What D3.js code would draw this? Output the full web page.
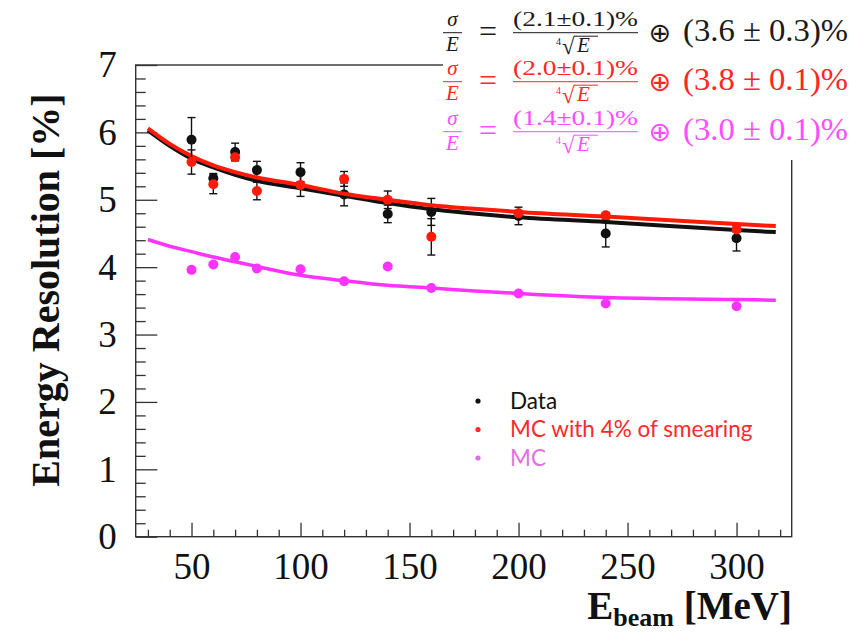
<!DOCTYPE html>
<html>
<head>
<meta charset="utf-8">
<script src="https://cdn.jsdelivr.net/npm/d3@7"></script>
<style>
    body { margin: 0; background: #fff; }
    svg { display: block; }
</style>
</head>
<body>
<div id="chart"></div>
<script>
// beam energies [MeV]
const energies = [50, 60, 70, 80, 100, 120, 140, 160, 200, 240, 300];

// Data (black) with errors
const dataRes = [5.89, 5.32, 5.71, 5.44, 5.41, 5.08, 4.79, 4.82, 4.76, 4.50, 4.43];
const dataErr = [0.33, 0.07, 0.13, 0.13, 0.14, 0.17, 0.13, 0.20, 0.13, 0.20, 0.19];

// MC with 4% smearing (red) with errors
const smearRes = [5.56, 5.23, 5.63, 5.13, 5.22, 5.31, 5.00, 4.45, 4.80, 4.77, 4.56];
const smearErr = [0.18, 0.14, 0.05, 0.13, 0.17, 0.11, 0.13, 0.27, 0.04, 0.04, 0.04];

// MC (magenta)
const mcRes = [3.96, 4.04, 4.15, 3.98, 3.97, 3.79, 4.01, 3.69, 3.61, 3.46, 3.42];

// fitted curves
const fitE = [30, 40, 50, 60, 70, 80, 100, 120, 140, 160, 178, 200, 240, 300, 318];
const fitData = [6.03, 5.80, 5.61, 5.48, 5.37, 5.28, 5.17, 5.06, 4.95, 4.86, 4.80, 4.74, 4.67, 4.55, 4.52];
const fitSmear = [6.06, 5.83, 5.65, 5.51, 5.41, 5.33, 5.22, 5.09, 5.00, 4.92, 4.87, 4.82, 4.75, 4.64, 4.61];
const fitMC = [4.41, 4.31, 4.23, 4.15, 4.08, 4.01, 3.88, 3.80, 3.73, 3.69, 3.65, 3.61, 3.55, 3.52, 3.51];

const xTicks = [50, 100, 150, 200, 250, 300];
const yTicks = [0, 1, 2, 3, 4, 5, 6, 7];

const legendLabels = ['Data', 'MC with 4% of smearing', 'MC'];
const formulas = [
    { num: '(2.1\u00b10.1)%', tail: '(3.6 \u00b1 0.3)%' },
    { num: '(2.0\u00b10.1)%', tail: '(3.8 \u00b1 0.1)%' },
    { num: '(1.4\u00b10.1)%', tail: '(3.0 \u00b1 0.1)%' }
];

const black = '#111';
const red = '#ff1a0a';
const magenta = '#ff33ff';

const width = 858;
const height = 632;
const plot = { left: 135.7, right: 791.7, top: 65, bottom: 536.7 };

const svg = d3.select('#chart')
    .append('svg')
    .attr('width', width)
    .attr('height', height);

svg.append('rect').attr('width', width).attr('height', height).attr('fill', '#fff');

const x = d3.scaleLinear().domain([24.4, 325.3]).range([plot.left, plot.right]);
const y = d3.scaleLinear().domain([0, 7]).range([plot.bottom, plot.top]);

// minor ticks
const xMinor = d3.range(30, 330, 10).filter(d => d % 50 !== 0);
const yMinor = d3.range(0, 7.01, 0.2).map(d => +d.toFixed(1)).filter(d => d % 1 !== 0);

svg.append('g')
    .attr('transform', `translate(0, ${plot.bottom})`)
    .call(d3.axisBottom(x).tickValues(xMinor).tickSize(-7).tickFormat(''))
    .call(g => g.select('.domain').remove());

svg.append('g')
    .attr('class', 'x-axis')
    .attr('transform', `translate(0, ${plot.bottom})`)
    .call(d3.axisBottom(x).tickValues(xTicks).tickSize(-14).tickPadding(16))
    .call(g => g.select('.domain').remove());

svg.append('g')
    .attr('transform', `translate(${plot.left}, 0)`)
    .call(d3.axisLeft(y).tickValues(yMinor).tickSize(-10).tickFormat(''))
    .call(g => g.select('.domain').remove());

svg.append('g')
    .attr('class', 'y-axis')
    .attr('transform', `translate(${plot.left}, 0)`)
    .call(d3.axisLeft(y).tickValues(yTicks).tickSize(-21.6).tickPadding(19).tickFormat(d3.format('d')))
    .call(g => g.select('.domain').remove());

svg.selectAll('.tick line').attr('stroke', '#333').attr('stroke-width', 1.3);
svg.selectAll('.x-axis text, .y-axis text')
    .attr('font-family', '"Liberation Serif", "Times New Roman", serif')
    .attr('font-size', 37)
    .attr('fill', '#111');

// frame
svg.append('rect')
    .attr('x', plot.left).attr('y', plot.top)
    .attr('width', plot.right - plot.left).attr('height', plot.bottom - plot.top)
    .attr('fill', 'none').attr('stroke', '#333').attr('stroke-width', 1.4);

// axis titles
svg.append('text')
    .attr('transform', 'translate(59, 290) rotate(-90)')
    .attr('text-anchor', 'middle')
    .attr('font-family', '"Liberation Serif", "Times New Roman", serif')
    .attr('font-weight', 'bold')
    .attr('font-size', 40)
    .attr('fill', '#111')
    .text('Energy Resolution [%]');

const xTitle = svg.append('text')
    .attr('x', 792).attr('y', 619)
    .attr('text-anchor', 'end')
    .attr('font-family', '"Liberation Serif", "Times New Roman", serif')
    .attr('font-weight', 'bold')
    .attr('font-size', 39)
    .attr('fill', '#111');
xTitle.append('tspan').text('E');
xTitle.append('tspan').attr('font-size', 26).attr('dy', 7).text('beam');
xTitle.append('tspan').attr('dy', -7).text(' [MeV]');

// curves
const line = d3.line()
    .x((d, i) => x(fitE[i]))
    .y(d => y(d))
    .curve(d3.curveMonotoneX);

const drawPoints = (values, color, r) => {
    svg.append('g')
        .selectAll('circle')
        .data(values)
        .join('circle')
        .attr('cx', (d, i) => x(energies[i]))
        .attr('cy', d => y(d))
        .attr('r', r)
        .attr('fill', color);
};

const drawErrors = (values, errs) => {
    const g = svg.append('g').attr('stroke', '#111').attr('stroke-width', 1.4);
    values.forEach((v, i) => {
        const cx = x(energies[i]);
        const lo = y(v - errs[i]);
        const hi = y(v + errs[i]);
        g.append('line').attr('x1', cx).attr('x2', cx).attr('y1', lo).attr('y2', hi);
        g.append('line').attr('x1', cx - 4).attr('x2', cx + 4).attr('y1', lo).attr('y2', lo);
        g.append('line').attr('x1', cx - 4).attr('x2', cx + 4).attr('y1', hi).attr('y2', hi);
    });
};

drawErrors(dataRes, dataErr);
drawPoints(dataRes, black, 5);

svg.append('path').datum(fitData).attr('d', line)
    .attr('fill', 'none').attr('stroke', black).attr('stroke-width', 4);
svg.append('path').datum(fitSmear).attr('d', line)
    .attr('fill', 'none').attr('stroke', red).attr('stroke-width', 4);
svg.append('path').datum(fitMC).attr('d', line)
    .attr('fill', 'none').attr('stroke', magenta).attr('stroke-width', 3.5);

drawErrors(smearRes, smearErr);
drawPoints(smearRes, red, 5);
drawPoints(mcRes, magenta, 5);

// legend
const legendColors = [black, '#ff2a2a', '#e070e0'];
const legend = svg.append('g').attr('transform', 'translate(478, 401)');
legendLabels.forEach((label, i) => {
    legend.append('circle').attr('cx', 0).attr('cy', i * 28.5).attr('r', 2.6).attr('fill', legendColors[i]);
    legend.append('text')
        .attr('x', 32).attr('y', i * 28.5 + 7.5)
        .attr('font-family', 'Lato, "Open Sans", sans-serif')
        .attr('font-size', 22.5)
        .attr('fill', legendColors[i])
        .text(label);
});

// formula box (white, hides frame corner)
svg.append('rect').attr('x', 443).attr('y', 0).attr('width', 415).attr('height', 160).attr('fill', '#fff');

const formulaColors = ['#1a1a1a', '#ff2626', '#ff4dff'];
const rowY = [32.7, 81.7, 131.7];
const serif = '"Liberation Serif", "Times New Roman", serif';

formulas.forEach((f, i) => {
    const y0 = rowY[i];
    const c = formulaColors[i];
    const g = svg.append('g').attr('fill', c).attr('stroke', 'none').attr('font-family', serif);

    g.append('text').attr('x', 452.5).attr('y', y0 - 6.5).attr('text-anchor', 'middle')
        .attr('font-style', 'italic').attr('font-size', 21).text('\u03c3');
    g.append('line').attr('x1', 443).attr('x2', 462).attr('y1', y0).attr('y2', y0)
        .attr('stroke', c).attr('stroke-width', 1);
    g.append('text').attr('x', 452.5).attr('y', y0 + 18).attr('text-anchor', 'middle')
        .attr('font-style', 'italic').attr('font-size', 21).text('E');

    g.append('text').attr('x', 488).attr('y', y0 + 9).attr('text-anchor', 'middle')
        .attr('font-size', 32).text('=');

    g.append('text').attr('x', 513).attr('y', y0 - 6.5)
        .attr('font-size', 20).attr('textLength', 125).attr('lengthAdjust', 'spacingAndGlyphs')
        .text(f.num);
    g.append('line').attr('x1', 513).attr('x2', 638).attr('y1', y0).attr('y2', y0)
        .attr('stroke', c).attr('stroke-width', 1);

    // fourth root of E
    g.append('text').attr('x', 556).attr('y', y0 + 12).attr('font-size', 10).text('4');
    g.append('text').attr('x', 562).attr('y', y0 + 21).attr('font-size', 23).text('\u221a');
    g.append('line').attr('x1', 574).attr('x2', 598).attr('y1', y0 + 3.5).attr('y2', y0 + 3.5)
        .attr('stroke', c).attr('stroke-width', 1);
    g.append('text').attr('x', 577).attr('y', y0 + 19.5)
        .attr('font-style', 'italic').attr('font-size', 21).text('E');

    g.append('text').attr('x', 660).attr('y', y0 + 9).attr('text-anchor', 'middle')
        .attr('font-family', '"DejaVu Sans", sans-serif').attr('font-size', 27).text('\u2295');

    g.append('text').attr('x', 683).attr('y', y0 + 8)
        .attr('font-size', 32).attr('textLength', 165).attr('lengthAdjust', 'spacingAndGlyphs')
        .text(f.tail);
});
</script>
</body>
</html>
